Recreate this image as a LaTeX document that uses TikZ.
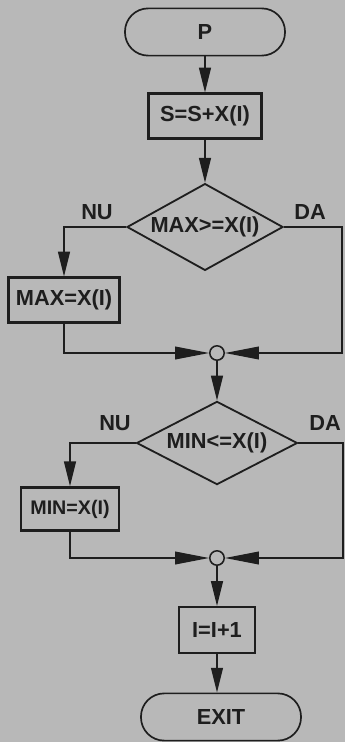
\documentclass[tikz,border=0pt]{standalone}
\usepackage{fontspec}
\setmainfont{Liberation Sans}
\usetikzlibrary{shapes.geometric, arrows.meta, positioning}
\definecolor{paper}{RGB}{184,184,184}
\definecolor{ink}{RGB}{30,30,30}
\newcommand{\chartfont}{\bfseries\fontsize{15.5}{18}\selectfont}
\tikzset{
  termbox/.style={rectangle, draw=ink, fill=paper, rounded corners=0.58cm,
    minimum width=4.0cm, minimum height=1.18cm, line width=1.2pt,
    font=\chartfont, text=ink},
  procbox/.style={rectangle, draw=ink, fill=paper, minimum height=1.12cm,
    inner sep=1pt, line width=1.6pt, font=\chartfont, text=ink},
  testbox/.style={diamond, aspect=1.8, draw=ink, fill=paper,
    minimum width=3.9cm, minimum height=2.17cm, inner sep=0pt,
    line width=1.3pt, font=\chartfont, text=ink},
  joint/.style={circle, draw=ink, fill=paper, minimum size=0.36cm,
    inner sep=0pt, line width=1.1pt},
  lbl/.style={font=\chartfont, text=ink},
  arrow/.style={-{Triangle[length=0.62cm, width=0.3cm]}, line width=0.9pt, color=ink},
  sidearrow/.style={-{Triangle[length=0.85cm, width=0.32cm]}, line width=0.9pt, color=ink},
  line/.style={line width=0.9pt, color=ink}
}
\begin{document}
\begin{tikzpicture}[x=0.025cm, y=-0.025cm]
  % paper
  \useasboundingbox (0,0) rectangle (345,742);
  \fill[paper] (0,0) rectangle (345,742);

  % upper part: sum and maximum
  \node[termbox] (start) at (205,32) {P};
  \node[procbox, minimum width=2.83cm] (sum) at (205,116) {S=S+X(I)};
  \node[testbox] (cmax) at (205,227) {MAX>=X(I)};
  \node[lbl] (nomax) at (97,212) {NU};
  \node[lbl] (yesmax) at (310,212) {DA};
  \node[procbox, minimum width=2.78cm] (setmax) at (64,300) {MAX=X(I)};
  \node[joint] (join1) at (217,353) {};
  \coordinate (r1) at (342,353);

  % lower part: minimum and counter
  \node[testbox, aspect=1.95, minimum width=4.02cm, minimum height=2.08cm] (cmin) at (217,443) {MIN<=X(I)};
  \node[lbl] (nomin) at (115,423) {NU};
  \node[lbl] (yesmin) at (325,423) {DA};
  \node[procbox, minimum width=2.45cm, minimum height=1.08cm,
    font=\bfseries\fontsize{14}{17}\selectfont] (setmin) at (70,509) {MIN=X(I)};
  \node[joint] (join2) at (217,558) {};
  \coordinate (r2) at (343,558);
  \node[procbox, minimum width=1.9cm, minimum height=1.15cm] (inc) at (217,630) {I=I+1};
  \node[termbox] (exit) at (221,717) {EXIT};

  % connectors
  \draw[arrow] (start) -- (sum);
  \draw[arrow] (sum) -- (cmax);
  \draw[arrow] (cmax.west) -| (setmax.north);
  \draw[sidearrow] (setmax.south) |- (join1.west);
  \draw[sidearrow] (cmax.east) -| (r1) -- (join1.east);
  \draw[arrow] (join1) -- (cmin);
  \draw[arrow] (cmin.west) -| (setmin.north);
  \draw[sidearrow] (setmin.south) |- (join2.west);
  \draw[sidearrow] (cmin.east) -| (r2) -- (join2.east);
  \draw[arrow] (join2) -- (inc);
  \draw[arrow] (inc) -- (exit.north -| inc.south);
\end{tikzpicture}
\end{document}
